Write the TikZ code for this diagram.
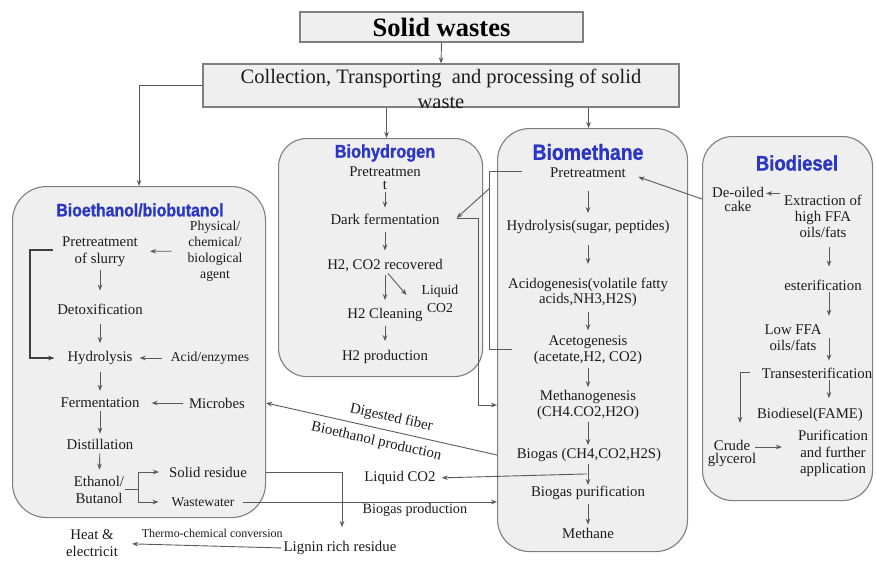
\documentclass[tikz,border=0pt]{standalone}
\usepackage{fontspec}
\setmainfont{Liberation Serif}
\newfontfamily\titlefont[FakeStretch=0.88, BoldFeatures={FakeBold=1.2}]{Liberation Sans}
\usetikzlibrary{arrows.meta,calc}
\definecolor{panelfill}{HTML}{EFEFEF}
\definecolor{panelline}{HTML}{7F7F7F}
\definecolor{arrowgray}{HTML}{5A5A5A}
\definecolor{titleblue}{HTML}{2B36C4}
\definecolor{ink}{HTML}{1C1C1C}
\begin{document}
\begin{tikzpicture}[x=1pt,y=-1pt,
  panel/.style={draw=panelline, fill=panelfill, line width=1.1pt,
    rounded corners=#1, anchor=north west, inner sep=0pt},
  topbox/.style={draw=panelline, fill=panelfill, line width=1.1pt, inner sep=0pt},
  txt/.style={font=\fontsize{14.8}{#1}\selectfont, text=ink, align=center, inner sep=1pt},
  txt/.default=16,
  stxt/.style={font=\fontsize{13.7}{#1}\selectfont, text=ink, align=center, inner sep=1pt},
  stxt/.default=16,
  title/.style={font=\titlefont\bfseries\fontsize{#1}{#1}\selectfont, text=titleblue, inner sep=0pt},
  arr/.style={draw=arrowgray, line width=0.9pt, -{Stealth[length=6pt,width=4.6pt]}},
  arrback/.style={draw=arrowgray, line width=0.9pt, {Stealth[length=6pt,width=4.6pt]}-},
  plain/.style={draw=arrowgray, line width=0.9pt},
  darkarr/.style={draw=ink!85, line width=1.2pt, -{Stealth[length=6pt,width=4.6pt]}},
  vstep/.style={arr, shorten <=#1, shorten >=#1},
  vstep/.default=6pt
]
\useasboundingbox (0,0) rectangle (876,560);
\fill[white] (0,0) rectangle (876,560);

% ---------- source and collection ----------
\node[topbox, minimum width=283pt, minimum height=30pt] (solid) at (441.5,27)
  {\fontsize{26.5}{28}\selectfont\bfseries Solid wastes};
\node[topbox, minimum width=476pt, minimum height=43pt] (collect) at (441,85.5) {};
\node[txt=25, font=\fontsize{20.5}{25}\selectfont] (collecttext) at (441,88.5)
  {Collection, Transporting~ and processing of solid\\waste};
\draw[arr] (solid.south) -- (collect.north);

% ---------- panels ----------
\node[panel=34pt, minimum width=253pt, minimum height=331pt] (ethbox) at (12,186) {};
\node[panel=28pt, minimum width=204pt, minimum height=238pt] (hydbox) at (278,138) {};
\node[panel=32pt, minimum width=190pt, minimum height=423pt] (metbox) at (497,128) {};
\node[panel=30pt, minimum width=170pt, minimum height=364pt] (dslbox) at (702,136) {};

\coordinate (hydin) at ($(hydbox.north)+(6,0)$);
\coordinate (metin) at ($(metbox.north)+(-4,0)$);
\draw[arr] (collect.west) -| (ethbox.north);
\draw[arr] (hydin |- collect.south) -- (hydin);
\draw[arr] (metin |- collect.south) -- (metin);

% ---------- titles ----------
\node[title=18] (ethtitle) at (140,210) {Bioethanol/biobutanol};
\node[title=18.5] (hydtitle) at (385,153) {Biohydrogen};
\node[title=22] (mettitle) at (588,152) {Biomethane};
\node[title=21] (dsltitle) at (797,163) {Biodiesel};

% ---------- bioethanol / biobutanol ----------
\node[txt=17] (epre) at (100,251.5) {Pretreatment\\of slurry};
\node[stxt=16] (agent) at (215,251) {Physical/\\chemical/\\biological\\agent};
\node[txt] (detox) at (100,309) {Detoxification};
\node[txt] (ehyd) at (100,358) {Hydrolysis};
\node[stxt] (acid) at (210,358) {Acid/enzymes};
\node[txt] (ferm) at (100,403) {Fermentation};
\node[txt] (microbes) at (217,403) {Microbes};
\node[txt] (distil) at (100,444) {Distillation};
\node[txt=17] (ethanol) at (99,489.5) {Ethanol/\\Butanol};
\node[txt] (solidres) at (208,472) {Solid residue};
\node[txt, font=\fontsize{13.5}{16}\selectfont] (wastew) at (203,502) {Wastewater};

\draw[arr, shorten <=2pt, shorten >=12pt] (epre) -- (detox);
\draw[arr, shorten <=9pt, shorten >=7pt] (detox) -- (ehyd);
\draw[vstep] (ehyd) -- (ferm);
\draw[arr, shorten <=2pt, shorten >=4pt] (ferm) -- (distil);
\draw[arr, shorten <=3pt, shorten >=5pt] (distil) -- (ethanol);
\draw[arr, shorten <=15pt, shorten >=11pt] (agent) -- (epre);
\draw[arr, shorten <=8pt, shorten >=6pt] (acid) -- (ehyd);
\draw[arr, shorten <=5pt, shorten >=11pt] (microbes) -- (ferm);
\draw[darkarr] ($(epre.west)+(-8,-1.5)$) -- ++(-23,0) |- ($(ehyd.west)+(-12,0)$);
\draw[arr, shorten >=9pt] (ethanol.east) -- ++(13,0) |- (solidres.west);
\draw[arr, shorten >=12pt] (ethanol.east) -- ++(13,0) |- (wastew.west);

% ---------- biohydrogen ----------
\node[txt=13] (hpre) at (385,178) {Pretreatmen\\t};
\node[txt] (dark) at (385,219) {Dark fermentation};
\node[txt] (hrec) at (385,265) {H2, CO2 recovered};
\node[stxt=18] (hliq) at (440,299) {Liquid\\CO2};
\node[txt] (hclean) at (385,315) {H2 Cleaning};
\node[txt] (hprod) at (385,357) {H2 production};

\draw[arr, shorten <=1pt, shorten >=5pt] (hpre) -- (dark);
\draw[arr, shorten <=7pt, shorten >=7pt] (dark) -- (hrec);
\draw[arr, shorten <=3pt, shorten >=7pt] (hrec) -- (hclean);
\draw[arr, shorten <=3pt, shorten >=8pt] (hclean) -- (hprod);
\draw[arr] ($(hrec.south)+(3,1)$) -- ($(hliq.west)+(-14,-4)$);

% ---------- biomethane ----------
\node[txt] (mpre) at (588,173) {Pretreatment};
\node[txt] (mhyd) at (588,227) {Hydrolysis(sugar, peptides)};
\node[txt=15] (acido) at (588,292.5) {Acidogenesis(volatile fatty\\acids,NH3,H2S)};
\node[txt] (aceto) at (588,350) {Acetogenesis\\(acetate,H2, CO2)};
\node[txt] (metha) at (588,405) {Methanogenesis\\(CH4.CO2,H2O)};
\node[txt] (biogas) at (589,455) {Biogas (CH4,CO2,H2S)};
\node[txt] (purif) at (588,493) {Biogas purification};
\node[txt] (methane) at (588,533) {Methane};

\draw[arr, shorten <=12pt, shorten >=6pt] (mpre) -- (mhyd);
\draw[arr, shorten <=10pt, shorten >=13pt] (mhyd) -- (acido);
\draw[arr, shorten <=4pt, shorten >=4pt] (acido) -- (aceto);
\draw[arr, shorten <=2pt, shorten >=2pt] (aceto) -- (metha);
\draw[arr, shorten <=1pt, shorten >=2pt] (metha.south) -- (metha.south |- biogas.north);
\draw[arr, shorten <=1pt, shorten >=0pt] (metha.south |- biogas.south) -- (metha.south |- purif.north);
\draw[arr, shorten <=3pt, shorten >=2pt] (purif) -- (methane);

% side product of biogas upgrading
\node[txt] (mliq) at (400,478) {Liquid CO2};
\draw[arr, shorten >=5pt] ($(biogas.south)+(-2,11)$) -- (mliq.east);

% digested fibre sent back to bioethanol
\draw[arrback] (microbes -| ethbox.east) --
  node[pos=0.53, sloped, above=4.5pt, txt] {Digested fiber}
  node[pos=0.49, sloped, below=5.5pt, txt] {Bioethanol production}
  (metbox.west |- biogas);

% wastewater to biogas
\draw[arr, shorten <=7pt] (wastew.east) --
  node[pos=0.686, below=0.5pt, txt, font=\fontsize{14.2}{16}\selectfont] {Biogas production}
  (metbox.west |- wastew);

% solid residue to lignin and energy
\node[txt] (lignin) at (340,548) {Lignin rich residue};
\node[txt=17] (heat) at (92,543.5) {Heat \&\\electricit};
\draw[arr] (ethbox.east |- solidres) -| ($(lignin.north)+(2,-13)$);
\draw[arr, shorten <=1pt, shorten >=13pt] (lignin.west) --
  node[pos=0.43, above=7pt, text=ink, inner sep=1pt, font=\fontsize{12}{13}\selectfont] {Thermo-chemical conversion}
  (heat.east);

% pretreatment feed shared with dark fermentation
\coordinate (brtop) at ($(mpre.west)+(-27,-2)$);
\coordinate (brcorner) at ($(brtop)+(-33,0)$);
\coordinate (brdiag) at ($(brcorner)+(1,17)$);
\coordinate (darkin) at ($(dark.east)+(16,-1)$);
\draw[plain] (brtop) -- (brcorner) |- ($(aceto.west)+(-21,-1)$);
\draw[arr] (brdiag) -- (darkin);
\draw[arr] (darkin) -- ++(22,0) |- (metbox.west |- metha);

% ---------- biodiesel ----------
\node[txt=14] (deoiled) at (738,199) {De-oiled\\cake};
\node[txt] (extract) at (823,216) {Extraction of\\high FFA\\oils/fats};
\node[txt] (ester) at (823,285) {esterification};
\node[txt] (lowffa) at (793,338) {Low FFA\\oils/fats};
\node[txt] (trans) at (817,373) {Transesterification};
\node[txt] (fame) at (810,415) {Biodiesel(FAME)};
\node[txt=13.5] (crude) at (732,453.5) {Crude\\glycerol};
\node[txt=16.5] (purifd) at (833,453.5) {Purification\\and further\\application};

\coordinate (dcol) at ($(extract.south)+(6,0)$);
\draw[arr] ($(extract.north west)+(-3,0)$) -- ($(deoiled.north east)+(1,7.8)$);
\draw[arr, shorten <=9pt, shorten >=12pt] (extract.south -| dcol) -- (ester.north -| dcol);
\draw[arr, shorten <=1pt, shorten >=8pt] (ester.south -| dcol) -- (lowffa.north -| dcol);
\draw[arr, shorten <=0pt, shorten >=6pt] (lowffa -| dcol) -- (trans.north -| dcol);
\draw[arr, shorten <=1pt, shorten >=9pt] (trans.south -| dcol) -- (fame.north -| dcol);
\draw[arr] ($(trans.west)+(-11,-1)$) -| ($(crude.north)+(8,-16)$);
\draw[arr] ($(crude.east)+(-2,-6.5)$) -- ($(purifd.west)+(-15,-6.5)$);
\draw[arr, shorten >=12pt] (dslbox.west |- deoiled) -- (mpre.east);

\end{tikzpicture}
\end{document}
